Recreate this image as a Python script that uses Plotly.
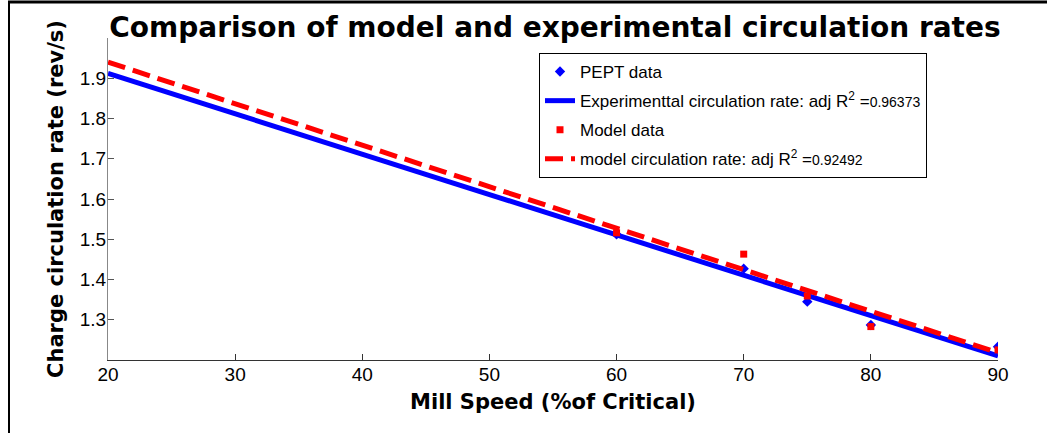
import plotly.graph_objects as go

# data
speed = [60, 70, 75, 80, 90]
pept_rate = [1.512, 1.427, 1.345, 1.287, 1.233]
model_rate = [1.516, 1.463, 1.359, 1.283, 1.225]
fit_speed = [20, 90]
exp_fit = [1.912, 1.210]
model_fit = [1.940, 1.218]
x_ticks = [20, 30, 40, 50, 60, 70, 80, 90]
y_ticks = [1.3, 1.4, 1.5, 1.6, 1.7, 1.8, 1.9]

W, H = 1047, 433
L, R, T, B = 108, 998, 38, 360

fig = go.Figure()
fig.add_trace(go.Scatter(x=speed, y=pept_rate, mode="markers", name="PEPT data",
                         legendgroup="a",
                         marker=dict(symbol="diamond", color="#0000ff", size=8)))
fig.add_trace(go.Scatter(x=fit_speed, y=exp_fit, mode="lines", legendgroup="b",
                         name="Experimenttal circulation rate: adj R<sup>2</sup> =<span style='font-size:14px'>0.96373</span>",
                         line=dict(color="#0000ff", width=5)))
fig.add_trace(go.Scatter(x=speed, y=model_rate, mode="markers", name="Model data",
                         legendgroup="c",
                         marker=dict(symbol="square", color="#ff0000", size=7)))
fig.add_trace(go.Scatter(x=fit_speed, y=model_fit, mode="lines", legendgroup="d",
                         name="model circulation rate: adj R<sup>2</sup> =<span style='font-size:14px'>0.92492</span>",
                         line=dict(color="#ff0000", width=5, dash="18px,8px")))

def px_x(p):
    return (p - L) / (R - L)

def px_y(p):
    return (B - p) / (B - T)

fig.update_layout(
    width=W, height=H,
    margin=dict(l=L, r=W - R, t=T, b=H - B),
    paper_bgcolor="white", plot_bgcolor="white",
    font=dict(family="Liberation Sans, Arial, sans-serif", color="black"),
    title=dict(text="<b>Comparison of model and experimental circulation rates</b>",
               xref="container", x=555 / W, xanchor="center",
               y=1 - 27 / H, yanchor="middle",
               font=dict(size=28, family="DejaVu Sans, sans-serif", color="black")),
    showlegend=True,
    legend=dict(x=px_x(539), y=px_y(53), xanchor="left", yanchor="top",
                bgcolor="white", bordercolor="black", borderwidth=1,
                font=dict(size=17, color="black"), tracegroupgap=4,
                itemwidth=30),
    xaxis=dict(range=[20, 90], tickvals=x_ticks, ticks="inside", ticklen=6,
               tickcolor="#333", showline=True, linecolor="#333", linewidth=1,
               showgrid=False, zeroline=False, tickfont=dict(size=19),
               automargin=False, ticklabelstandoff=-3,
               title=dict(text="<b>Mill Speed (%of Critical)</b>", standoff=10,
                          font=dict(size=21, family="DejaVu Sans, sans-serif"))),
    yaxis=dict(range=[1.2, 2.0], tickvals=y_ticks, ticktext=[f"{v:.1f}" for v in y_ticks],
               ticks="inside", ticklen=6, tickcolor="#555", showline=True,
               linecolor="#888", linewidth=1, showgrid=False, zeroline=False,
               tickfont=dict(size=19), automargin=False, ticklabelstandoff=-3,
               title=dict(text="<b>Charge circulation rate (rev/s)</b>", standoff=10,
                          font=dict(size=21, family="DejaVu Sans, sans-serif"))),
)

# figure frame (left and top edges visible)
fig.add_shape(type="line", xref="paper", yref="paper",
              x0=px_x(9), x1=px_x(9), y0=px_y(2), y1=px_y(H + 5),
              line=dict(color="black", width=2))
fig.add_shape(type="line", xref="paper", yref="paper",
              x0=px_x(8), x1=px_x(W + 5), y0=px_y(2), y1=px_y(2),
              line=dict(color="black", width=3))

fig.write_html("out.html", config={"displayModeBar": False},
               post_script="document.body.style.margin='0';document.body.style.padding='0';")
